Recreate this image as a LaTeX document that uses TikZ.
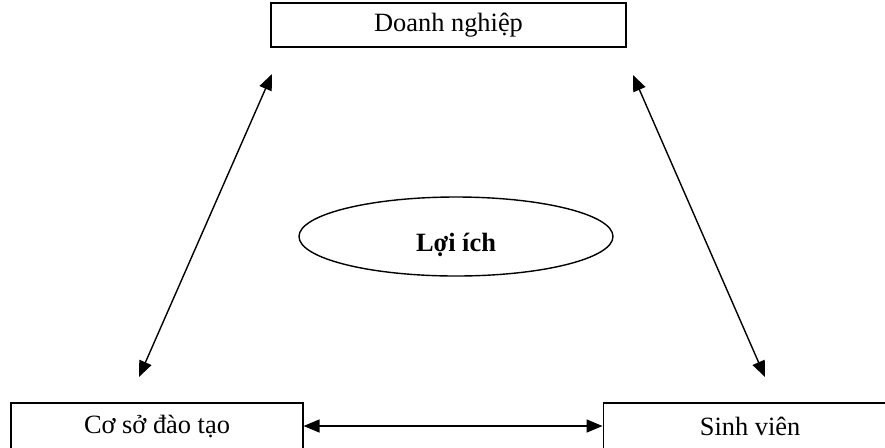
\documentclass[tikz,border=0pt]{standalone}
\usepackage{fontspec}
\setmainfont{Liberation Serif}
\usetikzlibrary{positioning, shapes.geometric, arrows.meta}

\begin{document}
\begin{tikzpicture}[x=0.5pt, y=-0.5pt]
    % Styles
    \tikzset{
        party/.style={rectangle, draw, line width=0.55pt, inner sep=0pt, minimum width=146pt, minimum height=23pt, font=\fontsize{13.2pt}{15pt}\selectfont},
        benefit/.style={ellipse, draw, line width=0.7pt, minimum width=157pt, minimum height=39.5pt, font=\fontsize{13.2pt}{15pt}\selectfont\bfseries},
        link/.style={{Triangle[length=8pt, width=6.5pt]}-{Triangle[length=8pt, width=6.5pt]}, line width=0.7pt}
    }

    % Frame of the page
    \useasboundingbox (0,0) rectangle (885,447);

    % --- Nodes ---

    % Top Box: Enterprise
    \node[party, minimum width=177.5pt, minimum height=22pt] (doanh) at (448.5,25) {Doanh nghiệp};

    % Bottom Left Box: Training Institution (cut by the page)
    \node[party] (coso) at (157,426) {Cơ sở đào tạo};

    % Bottom Right Box: Students (runs off the page)
    \node[party, minimum width=147pt, right=149.5pt of coso] (sinh) {Sinh viên};

    % Middle: Benefit (text sits a bit low)
    \node[benefit] (loiich) at (456,236.5) {\raisebox{-7.5pt}[0pt][0pt]{Lợi ích}};

    % --- Connections ---

    % Arrow ends (free ends, off the boxes)
    \coordinate (doanh_l) at (272,74);
    \coordinate (coso_t) at (139,377);
    \coordinate (doanh_r) at (633,75);
    \coordinate (sinh_t) at (765,377);

    \draw[link] (coso_t) -- (doanh_l);
    \draw[link] (sinh_t) -- (doanh_r);
    \draw[link] (coso) -- (sinh);

\end{tikzpicture}
\end{document}
